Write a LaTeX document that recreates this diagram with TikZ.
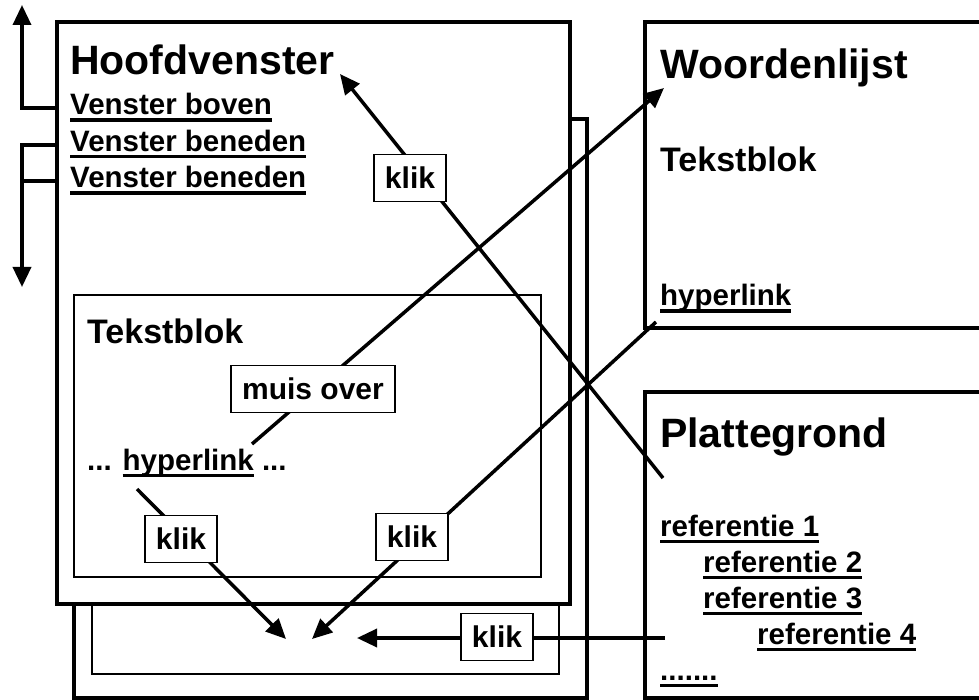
\documentclass[tikz,border=0pt]{standalone}
\usepackage{fontspec}
\setmainfont{Liberation Sans}
\usetikzlibrary{arrows.meta}
\newcommand{\ulx}[1]{\leavevmode\setbox0=\hbox{#1}\rlap{\rule[-7pt]{\wd0}{3.5pt}}\box0\relax}
\begin{document}
\begin{tikzpicture}[x=1pt,y=-1pt,
  win/.style={draw, line width=4pt},
  thinbox/.style={draw, line width=1.4pt},
  bigtxt/.style={anchor=base west, inner sep=0pt, font=\fontsize{41}{48}\selectfont\bfseries},
  subtxt/.style={anchor=base west, inner sep=0pt, font=\fontsize{34}{40}\selectfont\bfseries},
  midtxt/.style={anchor=base west, inner sep=0pt, font=\fontsize{29.5}{34}\selectfont\bfseries},
  lbl/.style={draw, line width=1.3pt, fill=white, font=\fontsize{30}{34}\selectfont\bfseries, minimum height=47pt, inner xsep=11pt, inner ysep=0pt},
  conn/.style={line width=3.5pt},
  arr/.style={conn, -{Triangle[length=20pt,width=18pt]}}
]
\useasboundingbox (0,0) rectangle (979,700);
\clip (0,0) rectangle (979,700);

% windows
\draw[win] (74,119) rectangle (587,698);
\draw[thinbox] (92,590) rectangle (559,674);
\draw[win, fill=white] (57,22) rectangle (570,604);
\draw[thinbox] (74,295) rectangle (541,577);
\draw[win] (645,22) rectangle (1000,328);
\draw[win] (645,392) rectangle (1000,698);

% texts main window
\node[bigtxt] (hoofd) at (70,75) {Hoofdvenster};
\node[midtxt] (vb) at (70,115) {\ulx{Venster boven}};
\node[midtxt] (vbn1) at (70,151.5) {\ulx{Venster beneden}};
\node[midtxt] (vbn2) at (70,188) {\ulx{Venster beneden}};
\node[subtxt] (tb1) at (87,343) {Tekstblok};
\node[midtxt] (hl1) at (87,470) {... \ulx{hyperlink} ...};

% Woordenlijst
\node[bigtxt] (woord) at (660,79) {Woordenlijst};
\node[subtxt] (tb2) at (660,172) {Tekstblok};
\node[midtxt] (hl2) at (660,306) {\ulx{hyperlink}};

% Plattegrond
\node[bigtxt] (plat) at (660,447) {Plattegrond};
\node[midtxt] (r1) at (660,536) {\ulx{referentie 1}};
\node[midtxt] (r2) at (703,572) {\ulx{referentie 2}};
\node[midtxt] (r3) at (703,608) {\ulx{referentie 3}};
\node[midtxt] (r4) at (757,644) {\ulx{referentie 4}};
\node[midtxt] (dots) at (660,680) {\ulx{.......}};

% left scroll arrows
\coordinate (vbL) at (57,108);
\coordinate (vbn1L) at (57,145);
\coordinate (vbn2L) at (57,181);
\coordinate (upTip) at (22,5);
\coordinate (downTip) at (22,287);
\coordinate (join) at (22,181);
\draw[arr] (vbL) -| (upTip);
\draw[arr] (vbn1L) -| (downTip);
\draw[conn] (vbn2L) -- (join);

% connectors
\coordinate (platStart) at (663,478);
\coordinate (hoofdTip) at (340,74);
\coordinate (hl1Top) at (252,444);
\coordinate (woordTip) at (664,88);
\coordinate (hl2Start) at (656,322);
\coordinate (rightTip) at (312,639);
\coordinate (hl1Bot) at (137,489);
\coordinate (leftTip) at (286,639);
\coordinate (r4Start) at (665,638);
\coordinate (horTip) at (357,638);

\draw[arr] (platStart) -- (hoofdTip);
\draw[arr] (hl1Top) -- (woordTip);
\draw[arr] (hl2Start) -- (rightTip);
\draw[arr] (hl1Bot) -- (leftTip);
\draw[arr] (r4Start) -- (horTip);

% label boxes
\node[lbl] (k1) at (410,178) {klik};
\node[lbl] (mo) at (313,389) {muis over};
\node[lbl] (k2) at (181,539) {klik};
\node[lbl] (k3) at (412,537) {klik};
\node[lbl] (k4) at (497,637) {klik};
\end{tikzpicture}
\end{document}
